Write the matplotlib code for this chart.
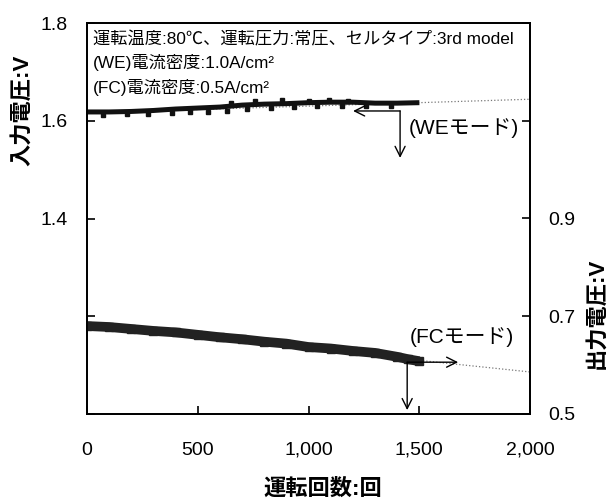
import numpy as np
import matplotlib
matplotlib.use("Agg")
import matplotlib.pyplot as plt

plt.rcParams['font.family'] = ['Liberation Sans', 'Noto Sans CJK JP', 'DejaVu Sans']

# WE mode (input voltage, left axis)
we_cycles = [0, 100, 200, 300, 400, 500, 600, 700, 800, 900, 1000, 1100, 1200, 1300, 1400, 1500]
we_volt = [1.618, 1.618, 1.619, 1.621, 1.624, 1.626, 1.628, 1.632, 1.634, 1.635, 1.637, 1.638, 1.638, 1.636, 1.636, 1.637]
we_dip_cycles = [72, 180, 275, 384, 465, 546, 632, 722, 830, 935, 1040, 1150, 1260, 1370]
we_dip_volt = [1.612, 1.613, 1.614, 1.615, 1.617, 1.618, 1.620, 1.624, 1.626, 1.628, 1.630, 1.631, 1.630, 1.630]
we_peak_cycles = [650, 760, 880, 1000, 1090, 1180]
we_peak_volt = [1.636, 1.641, 1.642, 1.641, 1.642, 1.641]
we_trend_x = [0, 2000]
we_trend_y = [1.616, 1.644]

# FC mode (output voltage, right axis)
fc_cycles = [0, 100, 200, 300, 400, 500, 600, 700, 800, 900, 1000, 1100, 1200, 1300, 1400, 1450, 1500]
fc_volt = [0.680, 0.678, 0.674, 0.670, 0.667, 0.662, 0.657, 0.653, 0.648, 0.644, 0.637, 0.634, 0.629, 0.625, 0.617, 0.612, 0.608]
fc_trend_x = [0, 2000]
fc_trend_y = [0.681, 0.586]

xticks = [0, 500, 1000, 1500, 2000]
xticklabels = ['0', '500', '1,000', '1,500', '2,000']
left_ticks = [1.0, 1.2, 1.4, 1.6, 1.8]
left_labels = ['', '', '1.4', '1.6', '1.8']
right_ticks = [0.5, 0.7, 0.9, 1.1, 1.3]
right_labels = ['0.5', '0.7', '0.9', '', '']

fig = plt.figure(figsize=(6.08, 5.0), dpi=100)
ax = fig.add_axes([0.143, 0.172, 0.729, 0.782])
ax2 = ax.twinx()

# left axis: WE
ax.plot(we_trend_x, we_trend_y, ls=':', lw=0.9, color='#777777', zorder=1)
ax.plot(we_cycles, we_volt, color='#111111', lw=3.6, solid_capstyle='butt', zorder=2)
ax.plot(we_dip_cycles, we_dip_volt, 's', ms=3.5, color='#111111', zorder=2)
ax.plot(we_peak_cycles, we_peak_volt, 's', ms=3.5, color='#111111', zorder=2)

# right axis: FC
ax2.plot(fc_trend_x, fc_trend_y, ls=':', lw=0.9, color='#777777', zorder=1)
ax2.plot(fc_cycles, fc_volt, color='#222222', lw=7, solid_capstyle='butt', zorder=2)
ax2.plot(fc_cycles, fc_volt, 's', ms=5.5, color='#222222', zorder=2)

ax.set_xlim(0, 2000)
ax.set_ylim(1.0, 1.8)
ax2.set_ylim(0.5, 1.3)

ax.set_xticks(xticks)
ax.set_xticklabels(xticklabels)
ax.set_yticks(left_ticks)
ax.set_yticklabels(left_labels)
ax2.set_yticks(right_ticks)
ax2.set_yticklabels(right_labels)

ax.tick_params(axis='x', direction='in', length=6, width=1.2, labelsize=14, pad=20)
ax.tick_params(axis='y', direction='in', length=6, width=1.2, labelsize=14, pad=14)
ax2.tick_params(axis='y', direction='in', length=6, width=1.2, labelsize=14, pad=13)
for a in (ax, ax2):
    for s in a.spines.values():
        s.set_linewidth(1.3)

ax.set_ylabel('入力電圧:V', fontsize=16, fontweight='bold')
ax.yaxis.set_label_coords(-0.122, 0.777)
ax2.set_ylabel('出力電圧:V', fontsize=16, fontweight='bold')
ax2.yaxis.set_label_coords(1.126, 0.258)
ax.set_xlabel('運転回数:回', fontsize=16, fontweight='bold')
ax.xaxis.set_label_coords(0.533, -0.166)

# header text
ax.text(0.0135, 0.957, '運転温度:80℃、運転圧力:常圧、セルタイプ:3rd model',
        transform=ax.transAxes, fontsize=12.4, ha='left', va='center')
ax.text(0.0135, 0.898, '(WE)電流密度:1.0A/cm²',
        transform=ax.transAxes, fontsize=12.4, ha='left', va='center')
ax.text(0.0135, 0.836, '(FC)電流密度:0.5A/cm²',
        transform=ax.transAxes, fontsize=12.4, ha='left', va='center')

arrow = dict(arrowstyle='->', lw=1.0, color='black', shrinkA=0, shrinkB=0,
             mutation_scale=18)
# WE arrows
ax.annotate('', xy=(1201, 1.620), xytext=(1413, 1.620), arrowprops=arrow)
ax.annotate('', xy=(1413, 1.524), xytext=(1413, 1.620), arrowprops=arrow)
ax.text(1702, 1.585, '(WEモード)', fontsize=15, ha='center', va='center')

# FC arrows
ax2.annotate('', xy=(1675, 0.606), xytext=(1445, 0.606), arrowprops=arrow)
ax2.annotate('', xy=(1445, 0.508), xytext=(1445, 0.606), arrowprops=arrow)
ax2.text(1693, 0.657, '(FCモード)', fontsize=15, ha='center', va='center')

fig.savefig('out.png', dpi=100)
